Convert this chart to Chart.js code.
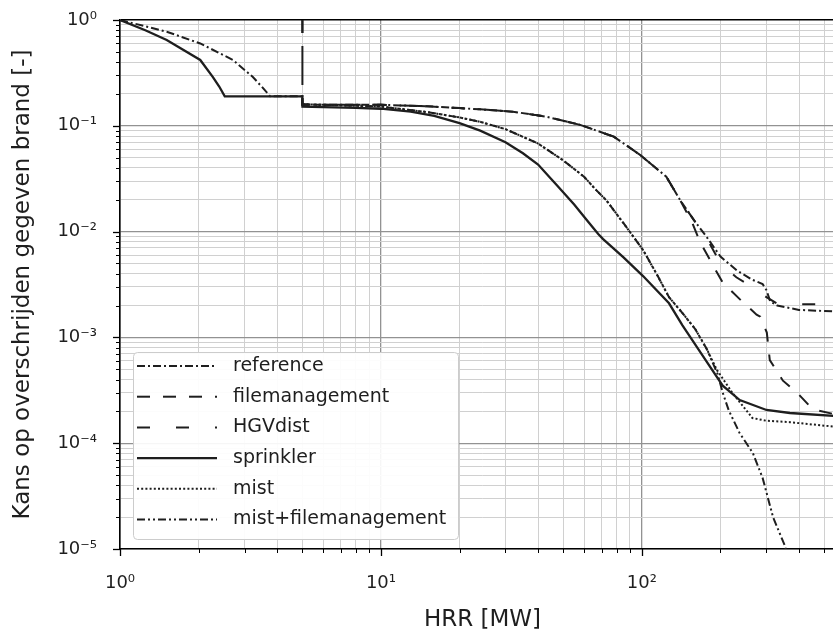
<!DOCTYPE html>
<html><head><meta charset="utf-8">
<script src="https://cdn.jsdelivr.net/npm/chart.js@4.4.1/dist/chart.umd.min.js"></script>
<style>html,body{margin:0;padding:0;overflow:hidden;background:#fff}#wrap{width:833px;height:632px;overflow:hidden}</style>
</head><body><div id="wrap"><canvas id="c" width="855" height="632"></canvas></div>
<script>
// ---- data (HRR in MW, exceedance probability) ----
const seriesLabels = ['reference','filemanagement','HGVdist','sprinkler','mist','mist+filemanagement'];

const referenceX = [1, 1.25, 1.51, 2.03, 2.71, 3.23, 3.5, 3.76, 5, 5, 10, 15, 20, 24, 32, 43, 58, 78, 98.5, 124, 140, 158, 177, 200, 231, 265, 290, 300, 310, 330, 400, 600];
const referenceY = [1, 0.872, 0.775, 0.60, 0.419, 0.289, 0.233, 0.19, 0.19, 0.158, 0.158, 0.153, 0.147, 0.143, 0.136, 0.122, 0.102, 0.079, 0.053, 0.033, 0.0199, 0.0129, 0.0089, 0.0058, 0.0043, 0.0035, 0.0032, 0.0028, 0.0022, 0.0020, 0.00182, 0.00174];

const filemanagementX = [5, 5, 10, 15, 20, 24, 32, 43, 58, 78, 98.5, 124, 140, 155, 167, 188, 204, 237, 275, 284, 301, 309, 347, 393, 451, 600];
const filemanagementY = [1, 0.158, 0.158, 0.153, 0.147, 0.143, 0.136, 0.122, 0.102, 0.079, 0.053, 0.033, 0.0199, 0.0125, 0.0080, 0.0047, 0.0033, 0.0023, 0.00164, 0.00157, 0.00111, 0.00061, 0.00039, 0.00030, 0.00021, 0.000178];

const hgvdistX = [5, 5, 10, 15, 20, 24, 32, 43, 58, 78, 98.5, 124, 140, 158, 177, 200, 230, 265, 300, 330, 400, 600];
const hgvdistY = [1, 0.158, 0.158, 0.153, 0.147, 0.143, 0.136, 0.122, 0.102, 0.079, 0.053, 0.033, 0.0199, 0.0129, 0.0087, 0.0050, 0.0037, 0.0030, 0.0024, 0.00208, 0.00206, 0.00206];

const sprinklerX = [1, 1.25, 1.51, 2.03, 2.27, 2.4, 2.52, 5, 5, 8, 10, 13, 16, 20, 24, 30, 35, 40, 47.5, 55, 62, 68, 71, 85, 101, 127, 143, 177, 204, 237, 300, 369, 600];
const sprinklerY = [1, 0.80, 0.647, 0.419, 0.289, 0.235, 0.19, 0.19, 0.152, 0.148, 0.145, 0.136, 0.124, 0.106, 0.090, 0.070, 0.055, 0.043, 0.027, 0.018, 0.0125, 0.0095, 0.0085, 0.0057, 0.0038, 0.0021, 0.0013, 0.00059, 0.00035, 0.000256, 0.000206, 0.000193, 0.000178];

const mistX = [5, 10, 15, 20, 24, 30, 40, 50, 60, 67, 73, 85, 101, 115, 127, 143, 160, 177, 194, 222, 265, 300, 369, 600];
const mistY = [0.16, 0.152, 0.135, 0.12, 0.109, 0.093, 0.068, 0.047, 0.033, 0.0245, 0.0198, 0.012, 0.0067, 0.0038, 0.0024, 0.0017, 0.0012, 0.00078, 0.00049, 0.00030, 0.000173, 0.000163, 0.000158, 0.00014];

const mistFmX = [5, 10, 15, 20, 24, 30, 40, 50, 60, 67, 73, 85, 101, 115, 127, 143, 160, 177, 195, 204, 215, 237, 266, 290, 318, 352, 365];
const mistFmY = [0.16, 0.152, 0.135, 0.12, 0.109, 0.093, 0.068, 0.047, 0.033, 0.0245, 0.0198, 0.012, 0.0067, 0.0038, 0.0024, 0.0017, 0.0012, 0.00078, 0.00045, 0.00030, 0.000205, 0.000124, 0.000081, 0.000047, 0.000020, 0.0000109, 0.000008];

const xTickValues = [1, 10, 100];
const xTickLabels = ['10\u2070', '10\u00B9', '10\u00B2'];
const yTickValues = [1e-5, 1e-4, 1e-3, 1e-2, 1e-1, 1];
const yTickLabels = ['10\u207B\u2075', '10\u207B\u2074', '10\u207B\u00B3', '10\u207B\u00B2', '10\u207B\u00B9', '10\u2070'];

const xMin = 1, xMax = 600, yMin = 1e-5, yMax = 1;

// ---- styling ----
const lineColor = '#1e1e1e';
const dashes = [[8,3,2,3],[13,13],[13,26],[],[2,2.2],[8,3,2,3,2,3]];
const widths = [2,2,2,2.3,2,2];

function pts(xs, ys){ return xs.map((x,i)=>({x:x, y:ys[i]})); }
const allData = [pts(referenceX,referenceY), pts(filemanagementX,filemanagementY), pts(hgvdistX,hgvdistY),
                 pts(sprinklerX,sprinklerY), pts(mistX,mistY), pts(mistFmX,mistFmY)];

const datasets = seriesLabels.map((lab,i)=>({
  label: lab, data: allData[i], borderColor: lineColor, backgroundColor: lineColor,
  borderWidth: widths[i], borderDash: dashes[i], pointRadius: 0, tension: 0, fill: false
}));

function logTicks(lo, hi){
  const t=[];
  for(let e=Math.round(Math.log10(lo)); e<=Math.round(Math.log10(hi)); e++){
    const b=Math.pow(10,e);
    if(b>=lo-1e-12 && b<=hi*1.0000001) t.push({value:b, major:true});
    for(let m=2;m<=9;m++){ const v=m*b; if(v>lo && v<=hi*1.0000001) t.push({value:v, major:false}); }
  }
  return t;
}
function labelFor(values, labels, v){
  const i = values.findIndex(a => Math.abs(Math.log10(a)-Math.log10(v))<1e-6);
  return i>=0 ? labels[i] : '';
}
const gridColor = c => (c.tick && c.tick.major) ? (c.tick.value===1 && c.scale.axis==='y' ? '#000' : '#929292') : '#d0d0d0';
const gridWidth = c => (c.tick && c.tick.major) ? (c.tick.value===1 && c.scale.axis==='y' ? 1.6 : 1.3) : 1;

const extras = {
  id:'extras',
  afterDraw(chart){
    const ctx=chart.ctx, a=chart.chartArea;
    ctx.save();
    ctx.strokeStyle='#000';
    chart.scales.x.ticks.forEach(t=>{ const L=t.major?7:4; ctx.lineWidth=t.major?1.3:1; const px=Math.round(chart.scales.x.getPixelForValue(t.value))+0.5; ctx.beginPath(); ctx.moveTo(px,a.bottom); ctx.lineTo(px,a.bottom+L); ctx.stroke(); });
    chart.scales.y.ticks.forEach(t=>{ const L=t.major?7:4; ctx.lineWidth=t.major?1.3:1; const py=Math.round(chart.scales.y.getPixelForValue(t.value))+0.5; ctx.beginPath(); ctx.moveTo(a.left-L,py); ctx.lineTo(a.left,py); ctx.stroke(); });
    // legend
    const bx=133.5, by=352.5, bw=325, bh=187, r=4;
    ctx.beginPath();
    ctx.moveTo(bx+r,by); ctx.lineTo(bx+bw-r,by); ctx.quadraticCurveTo(bx+bw,by,bx+bw,by+r);
    ctx.lineTo(bx+bw,by+bh-r); ctx.quadraticCurveTo(bx+bw,by+bh,bx+bw-r,by+bh);
    ctx.lineTo(bx+r,by+bh); ctx.quadraticCurveTo(bx,by+bh,bx,by+bh-r);
    ctx.lineTo(bx,by+r); ctx.quadraticCurveTo(bx,by,bx+r,by); ctx.closePath();
    ctx.fillStyle='rgba(255,255,255,0.92)'; ctx.fill();
    ctx.strokeStyle='#cccccc'; ctx.lineWidth=1; ctx.stroke();
    chart.data.datasets.forEach((ds,i)=>{
      const y = 366 + i*30.7;
      ctx.setLineDash(ds.borderDash||[]);
      ctx.lineWidth=ds.borderWidth; ctx.strokeStyle=ds.borderColor;
      ctx.beginPath(); ctx.moveTo(137,y); ctx.lineTo(217,y); ctx.stroke();
      ctx.setLineDash([]);
      ctx.fillStyle='#1e1e1e'; ctx.font='19px "DejaVu Sans"'; ctx.textBaseline='middle'; ctx.textAlign='left';
      ctx.fillText(ds.label, 233, y);
    });
    ctx.restore();
  }
};

new Chart(document.getElementById('c'), {
  type:'line',
  data:{ datasets },
  options:{
    responsive:false, animation:false, devicePixelRatio:1,
    layout:{ padding:{ left:0, right:0, top:20, bottom:0 } },
    plugins:{ legend:{display:false}, tooltip:{enabled:false} },
    scales:{
      x:{
        type:'logarithmic', min:xMin, max:xMax,
        afterBuildTicks(s){ s.ticks = logTicks(xMin, xMax); },
        afterFit(s){ s.height = 83; },
        ticks:{ autoSkip:false, maxRotation:0, padding:10, color:'#1e1e1e', font:{family:'DejaVu Sans', size:18},
          callback:(v)=>labelFor(xTickValues, xTickLabels, v) },
        grid:{ color:gridColor, lineWidth:gridWidth, tickColor:'rgba(0,0,0,0)', tickLength:14 },
        border:{ display:true, color:'#000', width:1.6 },
        title:{ display:true, text:'HRR [MW]', color:'#1e1e1e', font:{family:'DejaVu Sans', size:23, lineHeight:1}, padding:{top:0,bottom:0} }
      },
      y:{
        type:'logarithmic', min:yMin, max:yMax,
        afterBuildTicks(s){ s.ticks = logTicks(yMin, yMax); },
        afterFit(s){ s.width = 120; },
        ticks:{ autoSkip:false, padding:9, color:'#1e1e1e', font:{family:'DejaVu Sans', size:18},
          callback:(v)=>labelFor(yTickValues, yTickLabels, v) },
        grid:{ color:gridColor, lineWidth:gridWidth, tickColor:'rgba(0,0,0,0)', tickLength:14 },
        border:{ display:true, color:'#000', width:1.6 },
        title:{ display:true, text:'Kans op overschrijden gegeven brand [-]', color:'#1e1e1e', font:{family:'DejaVu Sans', size:23, lineHeight:1.2}, padding:{top:9,bottom:0} }
      }
    }
  },
  plugins:[extras]
});
</script></body></html>
